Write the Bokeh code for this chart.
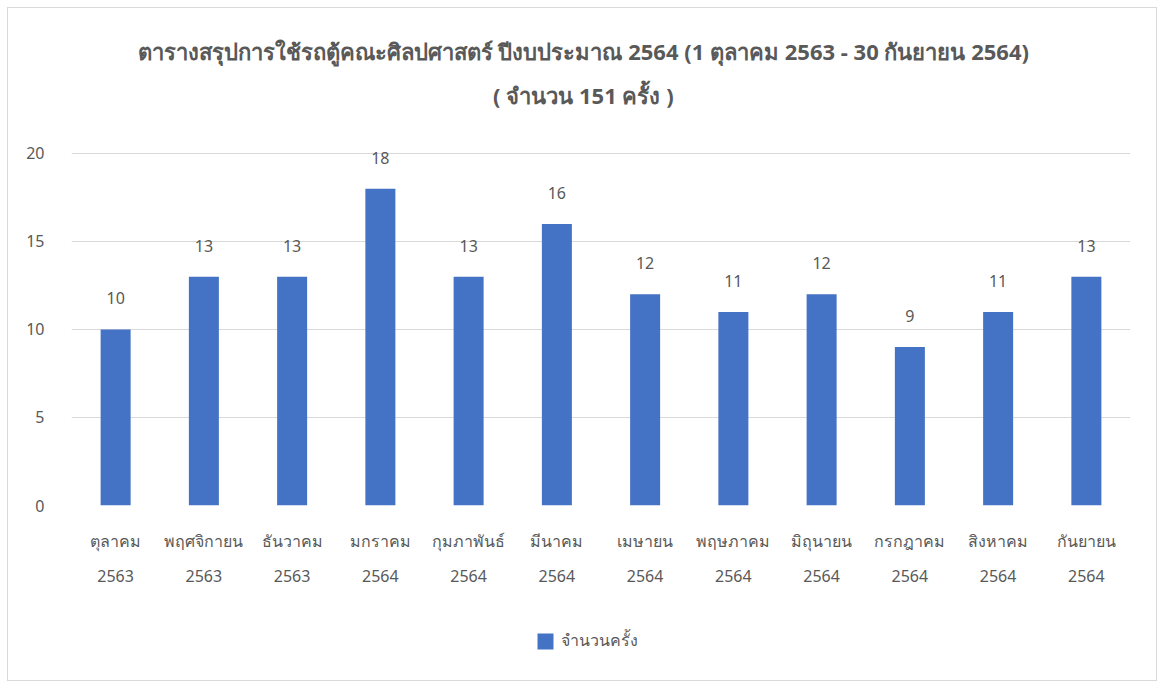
from bokeh.plotting import figure
from bokeh.layouts import column
from bokeh.models import FactorRange, Range1d, Legend, LegendItem, ColumnDataSource, FixedTicker
from bokeh.core.properties import value
from bokeh.embed import file_html
from bokeh.resources import INLINE

months = ["ตุลาคม", "พฤศจิกายน", "ธันวาคม", "มกราคม", "กุมภาพันธ์", "มีนาคม",
          "เมษายน", "พฤษภาคม", "มิถุนายน", "กรกฎาคม", "สิงหาคม", "กันยายน"]
years = ["2563", "2563", "2563", "2564", "2564", "2564",
         "2564", "2564", "2564", "2564", "2564", "2564"]
counts = [10, 13, 13, 18, 13, 16, 12, 11, 12, 9, 11, 13]
y_ticks = [0, 5, 10, 15, 20]
title_line1 = "ตารางสรุปการใช้รถตู้คณะศิลปศาสตร์ ปีงบประมาณ 2564 (1 ตุลาคม 2563 - 30 กันยายน 2564)"
title_line2 = "( จำนวน 151 ครั้ง )"
series_name = "จำนวนครั้ง"

factors = [m + "\n" + y for m, y in zip(months, years)]

FONT = "Noto Sans"
TXT = "#595959"
BAR = "#4472C4"
GRID = "#D9D9D9"

src = ColumnDataSource(dict(x=factors, y=counts, lbl=[str(c) for c in counts]))

p = figure(width=1148, height=590, x_range=FactorRange(factors=factors, range_padding=0),
           y_range=Range1d(0, 27.67), output_backend="svg", toolbar_location=None,
           min_border_left=63, min_border_right=26, min_border_top=10, min_border_bottom=93)
p.outline_line_color = None
p.background_fill_color = "white"
p.border_fill_color = "white"

r = p.vbar(x="x", top="y", width=0.34, source=src, fill_color=BAR, line_color=None)
p.text(x="x", y="y", text="lbl", source=src, y_offset=-31, text_align="center",
       text_baseline="middle", text_font=value(FONT), text_font_size="16px", text_color=TXT)

tsrc = ColumnDataSource(dict(x=[5.8, 5.8], y=[25.85, 23.35], t=[title_line1, title_line2]))
p.text(x="x", y="y", text="t", source=tsrc, text_align="center", text_baseline="middle",
       text_font=value(FONT), text_font_size="22px", text_font_style="bold", text_color=TXT)

p.xgrid.grid_line_color = None
p.ygrid.grid_line_color = GRID
p.ygrid.grid_line_width = 1
p.yaxis.ticker = FixedTicker(ticks=y_ticks)
for ax in (p.xaxis[0], p.yaxis[0]):
    ax.axis_line_color = None
    ax.major_tick_line_color = None
    ax.minor_tick_line_color = None
    ax.major_label_text_font = FONT
    ax.major_label_text_font_size = "16px"
    ax.major_label_text_color = TXT
p.yaxis.major_label_standoff = 21
p.xaxis.major_label_standoff = 18
p.xaxis.major_label_text_line_height = 1.6

# legend strip below the chart (its swatch renderer sits outside the visible range)
lf = figure(width=1148, height=82, x_range=Range1d(0, 1), y_range=Range1d(0, 1),
            output_backend="svg", toolbar_location=None, min_border=0)
lf.axis.visible = False
lf.grid.visible = False
lf.outline_line_color = None
lr = lf.vbar(x=[5], top=[5], bottom=[4], width=0.5, fill_color=BAR, line_color=None)
legend = Legend(items=[LegendItem(label=series_name, renderers=[lr])], location=(464, 27),
                glyph_width=20, glyph_height=20, label_text_font=FONT, label_text_font_size="16px",
                label_text_color=TXT, border_line_color=None, background_fill_alpha=0,
                padding=0, margin=0, spacing=0, label_standoff=6, label_height=16)
lf.add_layout(legend, "center")

layout = column(p, lf, spacing=0)
layout.styles = {"margin": "7px 0 0 7px", "border": "1px solid #D9D9D9"}

open("out.html", "w").write(file_html(layout, INLINE))
